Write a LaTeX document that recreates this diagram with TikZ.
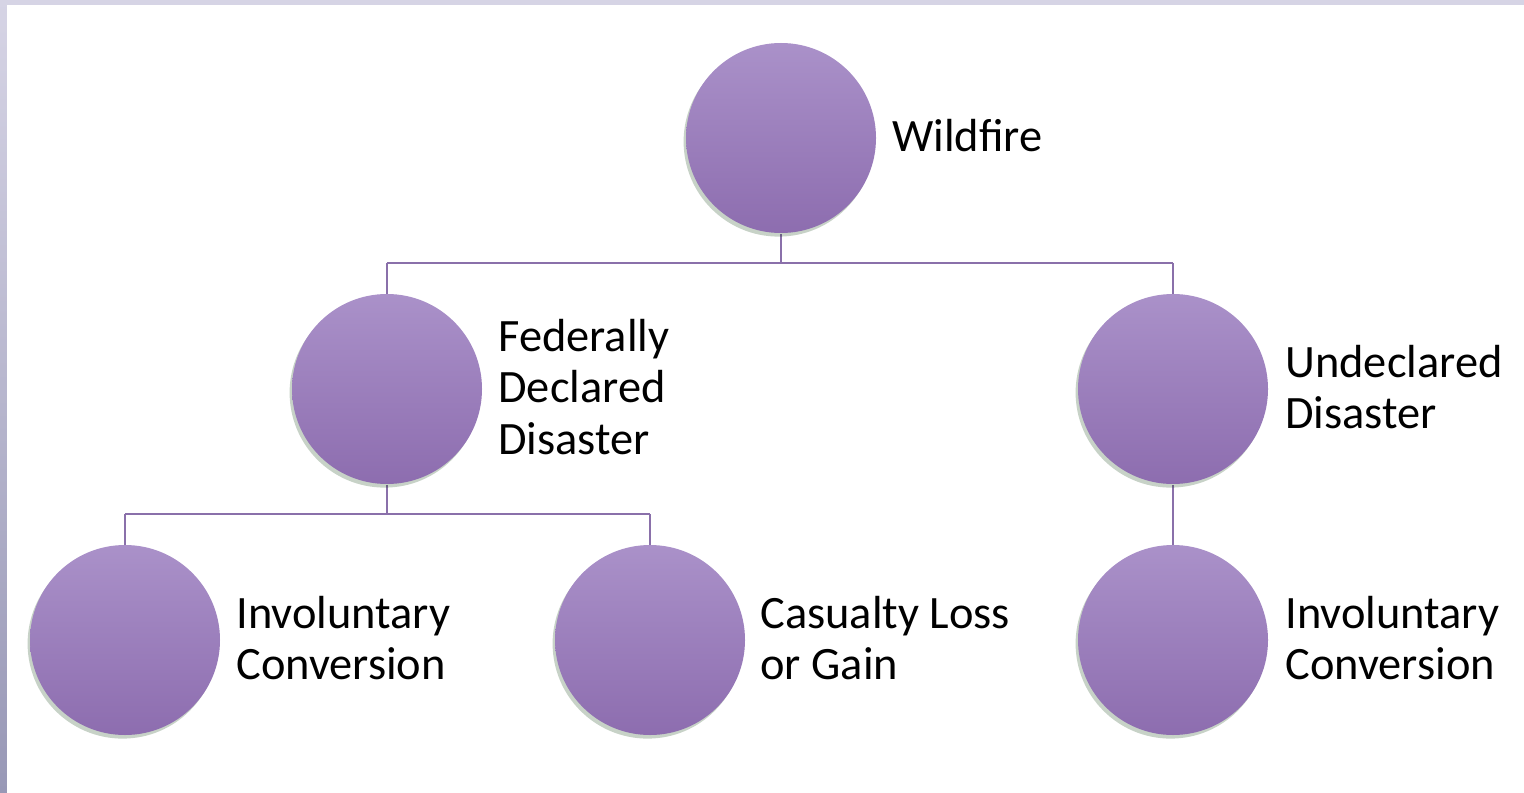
\documentclass[tikz,border=0pt]{standalone}
\usepackage{fontspec}
\setmainfont{Carlito}
\usetikzlibrary{shadows}
\definecolor{bandtop}{HTML}{D6D4E5}
\definecolor{bandbot}{HTML}{9898B6}
\definecolor{circtop}{HTML}{AA91C9}
\definecolor{circbot}{HTML}{8D6DAF}
\definecolor{linkcol}{HTML}{8A70AA}
\begin{document}
\begin{tikzpicture}[x=0.5pt,y=-0.5pt,
  bubble/.style={circle, inner sep=0pt, minimum size=95pt, draw=none,
    top color=circtop, bottom color=circbot,
    drop shadow={shadow xshift=-1.2pt, shadow yshift=-1.8pt, opacity=0.22, fill=black!80!green}},
  lbl/.style={anchor=west, align=left, inner sep=0pt, text=black,
    font=\fontsize{23.2pt}{25.75pt}\selectfont},
  link/.style={draw=linkcol, line width=1pt}]
\useasboundingbox (0,0) rectangle (1524,792);
\shade[top color=bandtop, bottom color=bandbot] (0,0) rectangle (1524,792);
\fill[white] (7,5) rectangle (1526,794);

\coordinate (j1) at (781,263);
\coordinate (j2) at (387,514);

\draw[link] (781,234) -- (j1);
\draw[link] (387,263) -- (1173,263);
\draw[link] (387,263) -- (387,294);
\draw[link] (1173,263) -- (1173,294);
\draw[link] (387,485) -- (j2);
\draw[link] (125,514) -- (650,514);
\draw[link] (125,514) -- (125,545);
\draw[link] (650,514) -- (650,545);
\draw[link] (1173,485) -- (1173,545);

\node[bubble] (wild) at (781,138) {};
\node[bubble] (fed) at (387,389) {};
\node[bubble] (und) at (1173,389) {};
\node[bubble] (inv1) at (125,640) {};
\node[bubble] (cas) at (650,640) {};
\node[bubble] (inv2) at (1173,640) {};

\node[lbl] (twild) at (892,136) {Wildfire};
\node[lbl] (tfed) at (498,387) {Federally\\Declared\\Disaster};
\node[lbl] (tund) at (1285,387) {Undeclared\\Disaster};
\node[lbl] (tinv1) at (236,638) {Involuntary\\Conversion};
\node[lbl] (tcas) at (760,638) {Casualty Loss\\or Gain};
\node[lbl] (tinv2) at (1285,638) {Involuntary\\Conversion};
\end{tikzpicture}
\end{document}
